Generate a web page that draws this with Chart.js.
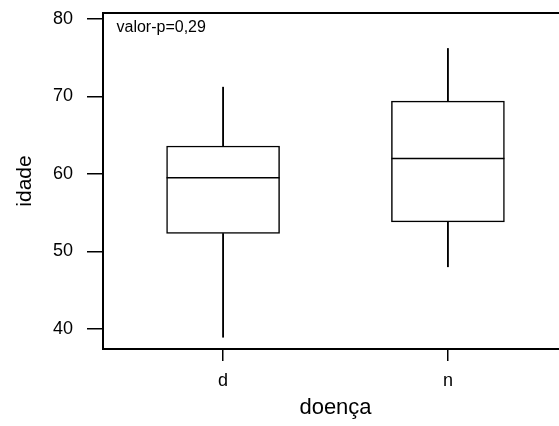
<!DOCTYPE html>
<html>
<head>
<meta charset="utf-8">
<script src="https://cdn.jsdelivr.net/npm/chart.js@4"></script>
<style>
  html, body { margin: 0; padding: 0; background: #fff; overflow: hidden; }
  #wrap { width: 559px; height: 426px; overflow: hidden; }
</style>
</head>
<body>
<div id="wrap"><canvas id="box" width="568" height="426"></canvas></div>
<script>
// boxplot idade x doença
const categories = ["d", "n"]
const whiskerLow = [38.9, 48.0]
const q1 = [52.3, 53.8]
const median = [59.5, 62.0]
const q3 = [63.6, 69.4]
const whiskerHigh = [71.2, 76.2]
const yTicks = [40, 50, 60, 70, 80]
const pValueText = "valor-p=0,29"

Chart.defaults.font.family = "'Liberation Sans', Arial, sans-serif"
Chart.defaults.color = "#000"

const pos = categories.map((c, i) => i)

const annotate = {
  id: "annotate",
  afterDraw(chart) {
    const { ctx, chartArea } = chart
    ctx.save()
    ctx.font = "16px 'Liberation Sans', Arial, sans-serif"
    ctx.fillStyle = "#000"
    ctx.textBaseline = "middle"
    ctx.fillText(pValueText, chartArea.left + 13.5, chartArea.top + 15)
    ctx.restore()
  },
}

new Chart(document.getElementById("box"), {
  type: "bar",
  data: {
    datasets: [
      {
        type: "scatter",
        data: pos.map((x, i) => ({ x, y: median[i] })),
        pointStyle: "line",
        pointRadius: 56.5,
        pointHoverRadius: 56.5,
        borderColor: "#000",
        borderWidth: 1.5,
        order: 0,
      },
      {
        data: pos.map((x, i) => ({ x, y: [q1[i], q3[i]] })),
        backgroundColor: "#fff",
        borderColor: "#000",
        borderWidth: 1.5,
        borderSkipped: false,
        barThickness: 113,
        grouped: false,
        order: 1,
      },
      {
        data: pos.map((x, i) => ({ x, y: [q3[i], whiskerHigh[i]] })),
        backgroundColor: "#000",
        borderWidth: 0,
        barThickness: 1.2,
        grouped: false,
        order: 2,
      },
      {
        data: pos.map((x, i) => ({ x, y: [whiskerLow[i], q1[i]] })),
        backgroundColor: "#000",
        borderWidth: 0,
        barThickness: 1.2,
        grouped: false,
        order: 2,
      },
    ],
  },
  options: {
    responsive: false,
    animation: false,
    events: [],
    layout: { padding: 0, autoPadding: false },
    plugins: { legend: { display: false }, tooltip: { enabled: false } },
    scales: {
      x: {
        type: "linear",
        position: "bottom",
        offset: false,
        min: -0.534,
        max: 1.534,
        afterBuildTicks: (scale) => {
          scale.ticks = pos.map((v) => ({ value: v }))
        },
        afterFit: (scale) => {
          scale.height = 77
        },
        ticks: {
          font: { size: 18 },
          padding: 9,
          maxRotation: 0,
          callback: (v) => categories[v] ?? "",
        },
        grid: { offset: false, drawOnChartArea: false, drawTicks: true, tickLength: 12, color: "#000", lineWidth: 1.5 },
        border: { display: true, color: "#000", width: 2 },
        title: { display: true, text: "doença", font: { size: 22 }, padding: { top: 0, bottom: 5 } },
      },
      x2: {
        type: "linear",
        position: "top",
        offset: false,
        min: -0.534,
        max: 1.534,
        afterFit: (scale) => {
          scale.height = 13
        },
        ticks: { display: false },
        grid: { offset: false, drawOnChartArea: false, drawTicks: false },
        border: { display: true, color: "#000", width: 2 },
      },
      y: {
        type: "linear",
        position: "left",
        min: 37.38,
        max: 80.78,
        afterBuildTicks: (scale) => {
          scale.ticks = yTicks.map((v) => ({ value: v }))
        },
        afterFit: (scale) => {
          scale.width = 103
          scale.paddingTop = 0
          scale.paddingBottom = 0
        },
        ticks: { font: { size: 18 }, padding: 14 },
        grid: { drawOnChartArea: false, drawTicks: true, tickLength: 16, color: "#000", lineWidth: 1.5 },
        border: { display: true, color: "#000", width: 2 },
        title: { display: true, text: "idade", font: { size: 21 }, padding: { top: 13, bottom: 0 } },
      },
    },
  },
  plugins: [annotate],
})
</script>
</body>
</html>
